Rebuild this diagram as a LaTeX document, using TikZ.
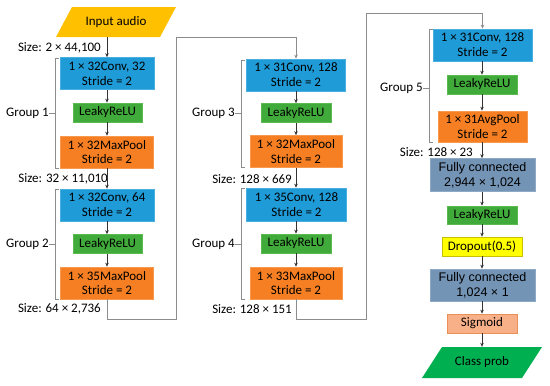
\documentclass[tikz,border=0pt]{standalone}
\usepackage{fontspec}
\setmainfont{Carlito}
\newfontfamily\fcfont{Liberation Sans}
\usetikzlibrary{arrows.meta}
\definecolor{convblue}{HTML}{1F9BD8}
\definecolor{convedge}{HTML}{4AAEE0}
\definecolor{relugreen}{HTML}{40AA3A}
\definecolor{reluedge}{HTML}{5CBB50}
\definecolor{poolorange}{HTML}{F57F22}
\definecolor{pooledge}{HTML}{F79A50}
\definecolor{fcblue}{HTML}{7494B6}
\definecolor{fcedge}{HTML}{8EA9C6}
\definecolor{dropyellow}{HTML}{FFFF00}
\definecolor{dropedge}{HTML}{C8C000}
\definecolor{sigfill}{HTML}{F8B088}
\definecolor{sigedge}{HTML}{EA8F55}
\definecolor{inyellow}{HTML}{FFC000}
\definecolor{outgreen}{HTML}{00B050}
\begin{document}
\begin{tikzpicture}[x=1pt,y=-1pt,
  txt/.style={font=\fontsize{13}{14.8}\selectfont, text=black, inner sep=0pt},
  box/.style={txt, draw, line width=0.7pt, align=center},
  conv/.style={box, fill=convblue, draw=convedge, minimum width=94pt, minimum height=32pt},
  relu/.style={box, fill=relugreen, draw=reluedge, minimum width=69pt, minimum height=19pt},
  pool/.style={box, fill=poolorange, draw=pooledge, minimum width=93pt, minimum height=32pt},
  fc/.style={box, fill=fcblue, draw=fcedge, minimum width=105pt, minimum height=33pt, font=\fcfont\fontsize{12.5}{15}\selectfont},
  drop/.style={box, fill=dropyellow, draw=dropedge, minimum width=80pt, minimum height=19pt},
  sig/.style={box, fill=sigfill, draw=sigedge, minimum width=70pt, minimum height=19pt},
  lbl/.style={txt, anchor=east},
  arr/.style={draw=black!80, line width=0.6pt, -{Stealth[length=4pt,width=3.5pt]}},
  link/.style={draw=black!45, line width=1pt, -{Stealth[length=4pt,width=3.5pt]}},
  brk/.style={draw=black!45, line width=0.8pt}
]
\useasboundingbox (0,0) rectangle (550,386);

% input / output parallelograms
\fill[inyellow] (56,37) -- (72,7) -- (176,7) -- (160,37) -- cycle;
\node[txt, minimum width=104pt, minimum height=30pt] (in) at (116,22) {Input audio};
\fill[outgreen] (422,378) -- (442,347) -- (542,347) -- (522,378) -- cycle;
\node[txt, minimum width=100pt, minimum height=31pt] (out) at (482,362.5) {Class prob};

% column 1
\node[conv] (conv1) at (107,73.5) {1 × 32Conv, 32\\Stride = 2};
\node[relu] (relu1) at (107.5,112.5) {LeakyReLU};
\node[pool] (pool1) at (107,152) {1 × 32MaxPool\\Stride = 2};
\node[conv] (conv2) at (107,205) {1 × 32Conv, 64\\Stride = 2};
\node[relu] (relu2) at (107.5,244) {LeakyReLU};
\node[pool] (pool2) at (107,283) {1 × 35MaxPool\\Stride = 2};

% column 2
\node[conv, minimum width=99pt] (conv3) at (296,75) {1 × 31Conv, 128\\Stride = 2};
\node[relu, minimum width=70pt] (relu3) at (296,113) {LeakyReLU};
\node[pool, minimum width=92pt] (pool3) at (296,151.5) {1 × 32MaxPool\\Stride = 2};
\node[conv, minimum width=100pt, minimum height=33pt] (conv4) at (296.5,204.5) {1 × 35Conv, 128\\Stride = 2};
\node[relu, minimum width=70pt] (relu4) at (296,243.5) {LeakyReLU};
\node[pool, minimum width=92pt] (pool4) at (296,283) {1 × 33MaxPool\\Stride = 2};

% column 3
\node[conv, minimum width=99pt] (conv5) at (482.5,45) {1 × 31Conv, 128\\Stride = 2};
\node[relu, minimum width=70pt] (relu5) at (482,84.5) {LeakyReLU};
\node[pool, minimum width=89pt, minimum height=31pt] (pool5) at (482.5,126.5) {1 × 31AvgPool\\Stride = 2};
\node[fc] (fc1) at (482.5,175) {Fully connected\\2,944 × 1,024};
\node[relu, minimum width=70pt, minimum height=18pt] (relu6) at (482,215) {LeakyReLU};
\node[drop] (drop) at (482,246.5) {Dropout(0.5)};
\node[fc, minimum height=32pt] (fc2) at (482.5,285) {Fully connected\\1,024 × 1};
\node[sig] (sig) at (482,323.5) {Sigmoid};

% size labels
\node[lbl] (s1) at (101,48) {Size: 2 × 44,100};
\node[lbl] (s2) at (108,179) {Size: 32 × 11,010};
\node[lbl] (s3) at (101,309) {Size: 64 × 2,736};
\node[lbl] (s4) at (292,179) {Size: 128 × 669};
\node[lbl] (s5) at (292,309) {Size: 128 × 151};
\node[lbl] (s6) at (473,152) {Size: 128 × 23};

% group labels and brackets
\node[lbl] (g1) at (49,113) {Group 1};
\node[lbl] (g2) at (49,244) {Group 2};
\node[lbl] (g3) at (235,113) {Group 3};
\node[lbl] (g4) at (235,244) {Group 4};
\node[lbl] (g5) at (423,88) {Group 5};
\draw[brk] (59,58) -- (55,58) -- (55,168) -- (59,168) (55,113) -- (g1.east);
\draw[brk] (59,189) -- (55,189) -- (55,299) -- (59,299) (55,244) -- (g2.east);
\draw[brk] (245,60) -- (241,60) -- (241,167) -- (245,167) (241,113) -- (g3.east);
\draw[brk] (245,188) -- (241,188) -- (241,299) -- (245,299) (241,244) -- (g4.east);
\draw[brk] (433,29) -- (429,29) -- (429,142) -- (433,142) (429,88) -- (g5.east);

% arrows
\draw[arr] (in.south -| conv1.north) -- (conv1.north);
\draw[arr] (conv1) -- (relu1.north -| conv1);
\draw[arr] (relu1.south -| conv1) -- (pool1);
\draw[arr] (pool1) -- (conv2);
\draw[arr] (conv2) -- (relu2.north -| conv2);
\draw[arr] (relu2.south -| conv2) -- (pool2);
\draw[arr] (conv3) -- (relu3);
\draw[arr] (relu3) -- (pool3);
\draw[arr] (pool3) -- (conv4.north -| pool3);
\draw[arr] (conv4.south -| pool3) -- (relu4);
\draw[arr] (relu4) -- (pool4);
\draw[arr] (conv5.south -| relu5) -- (relu5);
\draw[arr] (relu5) -- (pool5.north -| relu5);
\draw[arr] (pool5.south -| relu5) -- (fc1.north -| relu5);
\draw[arr] (fc1.south -| relu6) -- (relu6);
\draw[arr] (relu6) -- (drop);
\draw[arr] (drop) -- (fc2.north -| drop);
\draw[arr] (fc2.south -| sig) -- (sig);
\draw[arr] (sig) -- (out);

% long connectors
\draw[link] (pool2.south) -- ++(0,20) -| (176,37) -| (conv3.north);
\draw[link] (pool4.south) -- ++(0,20) -| (366,13) -| (conv5.north);
\end{tikzpicture}
\end{document}
